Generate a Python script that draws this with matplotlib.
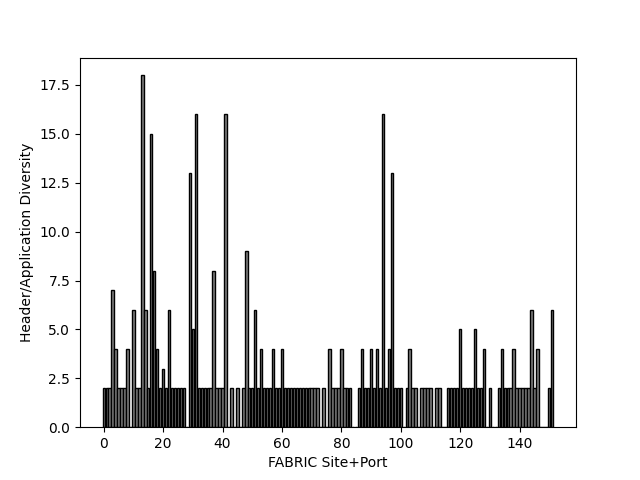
import matplotlib
matplotlib.use("Agg")
import matplotlib.pyplot as plt

# diversity per site+port index (0 = no bar)
diversity = [
    2, 2, 2, 7, 4, 2, 2, 2, 4, 0,      # 0-9
    6, 2, 2, 18, 6, 2, 15, 8, 4, 2,    # 10-19
    3, 2, 6, 2, 2, 2, 2, 2, 0, 13,     # 20-29
    5, 16, 2, 2, 2, 2, 2, 8, 2, 2,     # 30-39
    2, 16, 0, 2, 0, 2, 0, 2, 9, 2,     # 40-49
    2, 6, 2, 4, 2, 2, 2, 4, 2, 2,      # 50-59
    4, 2, 2, 2, 2, 2, 2, 2, 2, 2,      # 60-69
    2, 2, 2, 0, 2, 0, 4, 2, 2, 2,      # 70-79
    4, 2, 2, 2, 0, 0, 2, 4, 2, 2,      # 80-89
    4, 2, 4, 2, 16, 2, 4, 13, 2, 2,    # 90-99
    2, 0, 2, 4, 2, 2, 0, 2, 2, 2,      # 100-109
    2, 0, 2, 2, 0, 0, 2, 2, 2, 2,      # 110-119
    5, 2, 2, 2, 2, 5, 2, 2, 4, 0,      # 120-129
    2, 0, 0, 2, 4, 2, 2, 2, 4, 2,      # 130-139
    2, 2, 2, 2, 6, 2, 4, 0, 0, 0,      # 140-149
    2, 6,                              # 150-151
]
sites = list(range(len(diversity)))

fig, ax = plt.subplots(figsize=(6.4, 4.8), dpi=100)
ax.bar(sites, diversity, color='gray', edgecolor='black')
ax.set_xlabel('FABRIC Site+Port')
ax.set_ylabel('Header/Application Diversity')

plt.savefig('out.png')
